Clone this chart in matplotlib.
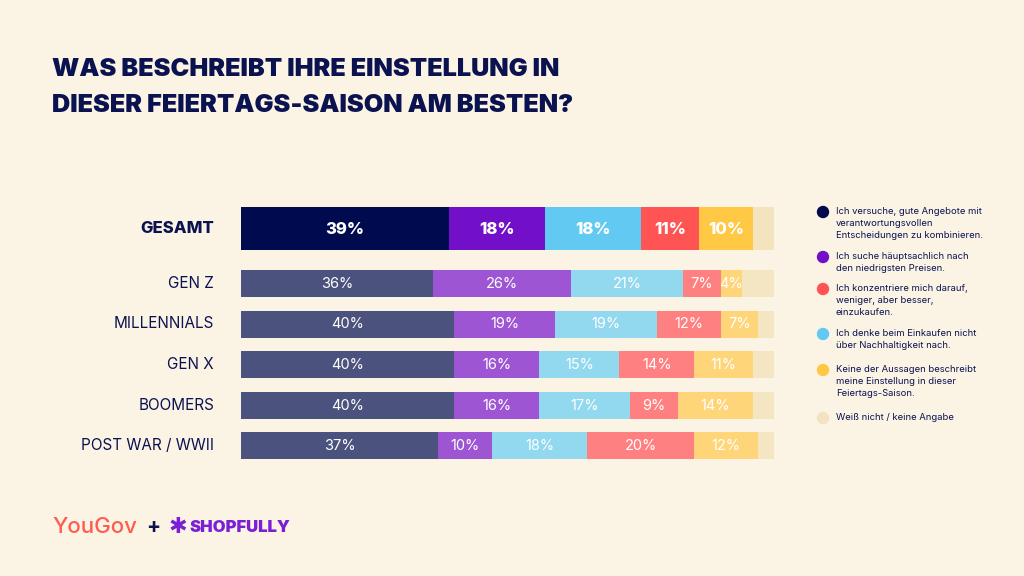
import matplotlib
matplotlib.use("Agg")
import matplotlib.pyplot as plt
from matplotlib.patches import Ellipse

# ---- data ----
groups = ["GESAMT", "GEN Z", "MILLENNIALS", "GEN X", "BOOMERS", "POST WAR / WWII"]
s_deals = [39, 36, 40, 40, 40, 37]        # gute Angebote + verantwortungsvoll
s_price = [18, 26, 19, 16, 16, 10]        # niedrigste Preise
s_nosust = [18, 21, 19, 15, 17, 18]       # nicht über Nachhaltigkeit
s_less = [11, 7, 12, 14, 9, 20]           # weniger, aber besser
s_none = [10, 4, 7, 11, 14, 12]           # keine der Aussagen
s_dk = [4, 6, 3, 4, 4, 3]                 # weiß nicht

series = [s_deals, s_price, s_nosust, s_less, s_none, s_dk]

legend_labels = [
    "Ich versuche, gute Angebote mit\nverantwortungsvollen\nEntscheidungen zu kombinieren.",
    "Ich suche häuptsachlich nach\nden niedrigsten Preisen.",
    "Ich konzentriere mich darauf,\nweniger, aber besser,\neinzukaufen.",
    "Ich denke beim Einkaufen nicht\nüber Nachhaltigkeit nach.",
    "Keine der Aussagen beschreibt\nmeine Einstellung in dieser\nFeiertags-Saison.",
    "Weiß nicht / keine Angabe",
]

# ---- styles ----
BG = "#FBF4E5"
NAVY = "#0B1250"
strong = ["#000B4F", "#7110C8", "#62CAF2", "#FF5454", "#FFC845", "#F3E3BF"]
soft = ["#4B527D", "#9D55D3", "#92D8EF", "#FF8080", "#FFD57A", "#F4E5C3"]
legend_colors = [strong[0], strong[1], strong[3], strong[2], strong[4], strong[5]]

W, H = 1024, 576
fig = plt.figure(figsize=(W / 100, H / 100), dpi=100, facecolor=BG)

# axes in pixel layout
x0, x1 = 241, 774
y0, y1 = 200, 466
ax = fig.add_axes([x0 / W, 1 - y1 / H, (x1 - x0) / W, (y1 - y0) / H])
ax.set_facecolor(BG)
ax.set_xlim(0, 100)
ax.set_ylim(y1, y0)
ax.axis("off")

centers = [228.5, 283.5, 324, 364.5, 405, 445.5]
heights = [43, 27, 27, 27, 27, 27]

for i, g in enumerate(groups):
    left = 0
    pal = strong if i == 0 else soft
    for k, s in enumerate(series):
        v = s[i]
        ax.barh(centers[i], v, left=left, height=heights[i], color=pal[k],
                edgecolor="none", linewidth=0)
        if k < 5:
            ax.text(left + v / 2, centers[i] + 0.5, f"{v}%", ha="center", va="center",
                    color="white", fontsize=12 if i == 0 else 10.5,
                    fontweight="heavy" if i == 0 else "normal",
                    family="Inter")
        left += v
    # row label
    fig.text(214 / W, 1 - centers[i] / H, g, ha="right", va="center",
             color=NAVY, fontsize=12 if i == 0 else 11,
             fontweight="heavy" if i == 0 else "normal", family="Inter")

# title
fig.text(52 / W, 1 - 69 / H, "WAS BESCHREIBT IHRE EINSTELLUNG IN", ha="left", va="center",
         color=NAVY, fontsize=18.2, fontweight="black", family="Inter")
fig.text(52 / W, 1 - 105 / H, "DIESER FEIERTAGS-SAISON AM BESTEN?", ha="left", va="center",
         color=NAVY, fontsize=18.2, fontweight="black", family="Inter")

# legend
leg_y = [212, 257, 289, 334, 370, 418]
for c, lab, yy in zip(legend_colors, legend_labels, leg_y):
    fig.add_artist(Ellipse((823 / W, 1 - yy / H), 11 / W, 11 / H,
                           transform=fig.transFigure, color=c))
    fig.text(836 / W, 1 - (yy - 5) / H, lab, ha="left", va="top", color=NAVY,
             fontsize=6.8, family="Inter", linespacing=1.45)

# logos
fig.text(52 / W, 1 - 527 / H, "YouGov", ha="left", va="center", color="#FF5C4D",
         fontsize=16, family="Inter", fontweight="medium")
fig.text(146 / W, 1 - 527 / H, "+", ha="left", va="center", color=NAVY,
         fontsize=15, family="Inter", fontweight="bold")
fig.text(169 / W, 1 - 527 / H, "✱", ha="left", va="center", color="#7A1FD6",
         fontsize=16, family="DejaVu Sans", fontweight="bold")
fig.text(189 / W, 1 - 527 / H, "SHOPFULLY", ha="left", va="center", color="#7A1FD6",
         fontsize=12, family="Inter", fontweight="black")

fig.savefig("out.png", dpi=100, facecolor=BG)
